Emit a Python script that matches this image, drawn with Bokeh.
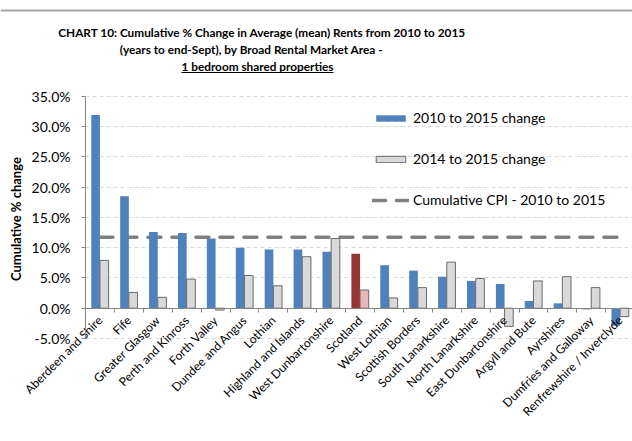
from math import pi
from bokeh.plotting import figure
from bokeh.models import (ColumnDataSource, Range1d, Legend, LegendItem, Label, BoxAnnotation,
                          FixedTicker, PrintfTickFormatter)
from bokeh.transform import dodge
from bokeh.embed import file_html
from bokeh.resources import INLINE

categories = ["Aberdeen and Shire", "Fife", "Greater Glasgow", "Perth and Kinross", "Forth Valley",
              "Dundee and Angus", "Lothian", "Highland and Islands", "West Dunbartonshire", "Scotland",
              "West Lothian", "Scottish Borders", "South Lanarkshire", "North Lanarkshire",
              "East Dunbartonshire", "Argyll and Bute", "Ayrshires", "Dumfries and Galloway",
              "Renfrewshire / Inverclyde"]
change_2010_2015 = [31.9, 18.5, 12.6, 12.4, 11.5, 10.0, 9.7, 9.7, 9.3, 9.0,
                    7.1, 6.2, 5.2, 4.5, 4.0, 1.2, 0.8, -0.2, -2.9]
change_2014_2015 = [7.9, 2.6, 1.8, 4.8, -0.3, 5.4, 3.7, 8.5, 11.5, 3.0,
                    1.7, 3.4, 7.6, 4.9, -3.0, 4.5, 5.2, 3.4, -1.4]
cpi_2010_2015 = 11.7
y_ticks = [-5, 0, 5, 10, 15, 20, 25, 30, 35]
highlight = "Scotland"
title_lines = ["CHART 10:  Cumulative % Change in Average (mean) Rents from 2010 to 2015",
               "(years to end-Sept), by Broad Rental Market Area -",
               "1 bedroom shared properties"]

BLUE = "#4f81bd"
GREY = "#d9d9d9"
RED = "#953735"
PINK = "#e6b9b8"
FONT = "Lato"

W, H = 632, 441
# layout of the plotting area on the canvas (pixels)
AX_LEFT, CAT_W = 85, 28.9
Y0_PX, Y35_PX = 307.7, 95.7
PX_PER_UNIT = (Y0_PX - Y35_PX) / 35.0

n = len(categories)
centers = [i + 0.5 for i in range(n)]
boundaries = [float(i) for i in range(n + 1)]

src = ColumnDataSource(dict(
    xc=centers,
    cat=categories,
    a=change_2010_2015,
    b=change_2014_2015,
    cpi=[cpi_2010_2015] * n,
    ca=[RED if c == highlight else BLUE for c in categories],
    cb=[PINK if c == highlight else GREY for c in categories],
))

p = figure(x_range=Range1d(-AX_LEFT / CAT_W, (W - AX_LEFT) / CAT_W),
           y_range=Range1d(-(H - Y0_PX) / PX_PER_UNIT, Y0_PX / PX_PER_UNIT),
           width=W, height=H, output_backend="svg", toolbar_location=None,
           min_border=0, min_border_left=0, min_border_right=0, min_border_top=0,
           min_border_bottom=0)
p.outline_line_color = None
p.xgrid.grid_line_color = None
p.ygrid.grid_line_color = "#d9d9d9"
p.ygrid.grid_line_dash = "4 3"
p.ygrid.grid_line_width = 1
p.ygrid.cross_bounds = (0, n)

ya = p.yaxis[0]
ya.fixed_location = 0
ya.bounds = (min(y_ticks), max(y_ticks))
ya.ticker = FixedTicker(ticks=y_ticks)
ya.formatter = PrintfTickFormatter(format="%.1f%%")
ya.major_label_text_font = FONT
ya.major_label_text_font_size = "14px"
ya.major_label_text_color = "#000000"
ya.axis_line_color = "#868686"
ya.major_tick_line_color = "#868686"
ya.major_tick_out = 4
ya.major_tick_in = 0
ya.minor_tick_line_color = None
ya.major_label_standoff = 11
ya.axis_label = "Cumulative  % change"
ya.axis_label_text_font = FONT
ya.axis_label_text_font_size = "13px"
ya.axis_label_text_font_style = "bold"
ya.axis_label_text_color = "#000000"
ya.axis_label_standoff = 5

xa = p.xaxis[0]
xa.fixed_location = 0
xa.bounds = (0, n)
xa.ticker = FixedTicker(ticks=centers, minor_ticks=boundaries)
xa.major_label_overrides = {c: name for c, name in zip(centers, categories)}
xa.major_label_orientation = pi / 4
xa.major_label_text_font = FONT
xa.major_label_text_font_size = "12px"
xa.major_label_text_color = "#000000"
xa.axis_line_color = "#868686"
xa.major_tick_line_color = None
xa.minor_tick_line_color = "#868686"
xa.minor_tick_out = 4
xa.minor_tick_in = 0
xa.major_label_standoff = 4

cpi_r = p.line(x="xc", y="cpi", source=src, line_color="#808080", line_width=3.5,
               line_dash="13 11", line_cap="round")
ra = p.vbar(x=dodge("xc", -0.15), top="a", bottom=0, width=0.3, source=src,
            fill_color="ca", line_color=None)
rb = p.vbar(x=dodge("xc", 0.15), top="b", bottom=0, width=0.3, source=src,
            fill_color="cb", line_color="#6a6a6a", line_width=1)

legend = Legend(items=[LegendItem(label="2010 to 2015 change", renderers=[ra]),
                       LegendItem(label="2014 to 2015 change", renderers=[rb]),
                       LegendItem(label="Cumulative CPI - 2010 to 2015", renderers=[cpi_r])],
                location=(372, H - 208), orientation="vertical", glyph_width=37, glyph_height=8,
                label_height=16, spacing=24, padding=0, margin=0, label_standoff=4,
                label_text_font=FONT, label_text_font_size="14px", label_text_color="#000000",
                border_line_color=None, background_fill_alpha=0)
p.add_layout(legend)

# chart title (screen units, measured from the bottom-left of the canvas)
for tx, ty, txt in zip([263, 251, 257], [32, 49, 66], title_lines):
    p.add_layout(Label(x=tx, y=H - ty, x_units="screen", y_units="screen", text=txt,
                       text_align="center", text_baseline="middle", text_font=FONT,
                       text_font_size="11.8px", text_font_style="bold", text_color="#000000"))

# underline of the last title line and the frame line at the top
p.add_layout(BoxAnnotation(left=181, right=333, top=H - 71.5, bottom=H - 72.5,
                           left_units="screen", right_units="screen", top_units="screen",
                           bottom_units="screen", fill_color="#000000", fill_alpha=1,
                           line_color=None, level="overlay"))
p.add_layout(BoxAnnotation(left=0, right=W, top=H - 9, bottom=H - 11,
                           left_units="screen", right_units="screen", top_units="screen",
                           bottom_units="screen", fill_color="#a6a6a6", fill_alpha=1,
                           line_color=None, level="overlay"))

open("out.html", "w").write(file_html(p, INLINE))
